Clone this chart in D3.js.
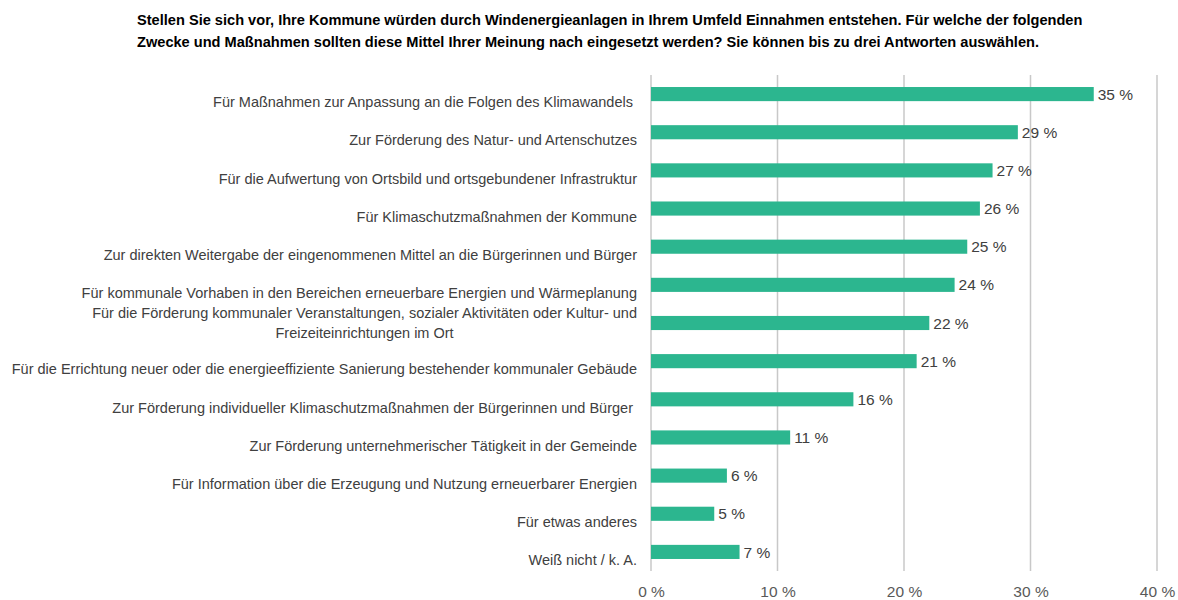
<!DOCTYPE html>
<html><head><meta charset="utf-8">
<script src="https://cdn.jsdelivr.net/npm/d3@7"></script>
<style>
html,body{margin:0;padding:0;background:#fff;}
svg{display:block;font-family:"Liberation Sans",Arial,sans-serif;}
</style></head>
<body><svg id="c" width="1178" height="600"></svg>
<script>
const titleLines = [
  "Stellen Sie sich vor, Ihre Kommune würden durch Windenergieanlagen in Ihrem Umfeld Einnahmen entstehen. Für welche der folgenden",
  "Zwecke und Maßnahmen sollten diese Mittel Ihrer Meinung nach eingesetzt werden? Sie können bis zu drei Antworten auswählen."
];
const categories = [
  ["Für Maßnahmen zur Anpassung an die Folgen des Klimawandels "],
  ["Zur Förderung des Natur- und Artenschutzes"],
  ["Für die Aufwertung von Ortsbild und ortsgebundener Infrastruktur"],
  ["Für Klimaschutzmaßnahmen der Kommune"],
  ["Zur direkten Weitergabe der eingenommenen Mittel an die Bürgerinnen und Bürger"],
  ["Für kommunale Vorhaben in den Bereichen erneuerbare Energien und Wärmeplanung"],
  ["Für die Förderung kommunaler Veranstaltungen, sozialer Aktivitäten oder Kultur- und", "Freizeiteinrichtungen im Ort"],
  ["Für die Errichtung neuer oder die energieeffiziente Sanierung bestehender kommunaler Gebäude"],
  ["Zur Förderung individueller Klimaschutzmaßnahmen der Bürgerinnen und Bürger "],
  ["Zur Förderung unternehmerischer Tätigkeit in der Gemeinde"],
  ["Für Information über die Erzeugung und Nutzung erneuerbarer Energien"],
  ["Für etwas anderes"],
  ["Weiß nicht / k. A."]
];
const values = [35, 29, 27, 26, 25, 24, 22, 21, 16, 11, 6, 5, 7];
const tickValues = [0, 10, 20, 30, 40];

const svg = d3.select("#c");
const x = d3.scaleLinear().domain([0, 40]).range([651, 1157]);
const y = d3.scaleBand().domain(d3.range(categories.length)).range([75, 571]).paddingInner(0.63).paddingOuter(0.315);

// title
svg.append("g").selectAll("text").data(titleLines).join("text")
  .attr("x", 137).attr("y", (d, i) => 25 + i * 22)
  .attr("font-size", 14.6).attr("font-weight", "bold").attr("fill", "#000")
  .text(d => d);

// gridlines
svg.append("g").selectAll("line").data(tickValues).join("line")
  .attr("x1", d => x(d)).attr("x2", d => x(d))
  .attr("y1", 75).attr("y2", 571)
  .attr("stroke", "#c8c8c8").attr("stroke-width", 1.5);

// x axis tick labels
const xAxis = d3.axisBottom(x).tickValues(tickValues).tickSize(0).tickFormat(d => d + " %");
const gx = svg.append("g").attr("transform", "translate(0,583)").call(xAxis);
gx.select(".domain").remove();
gx.selectAll("text").attr("font-size", 15.5).attr("fill", "#595959").attr("font-family", "Liberation Sans, Arial, sans-serif");

// bars
svg.append("g").selectAll("rect").data(values).join("rect")
  .attr("x", x(0)).attr("y", (d, i) => y(i))
  .attr("width", d => x(d) - x(0)).attr("height", y.bandwidth())
  .attr("fill", "#2cb68f");

// value labels
svg.append("g").selectAll("text").data(values).join("text")
  .attr("x", d => x(d) + 4).attr("y", (d, i) => y(i) + y.bandwidth() / 2)
  .attr("dy", "0.36em").attr("font-size", 15.5).attr("fill", "#404040")
  .text(d => d + " %");

// category labels
const lg = svg.append("g");
categories.forEach((lines, i) => {
  const cy = y(i) + y.bandwidth() / 2;
  if (lines.length === 1) {
    lg.append("text").attr("x", 637).attr("y", cy + 8).attr("dy", "0.36em")
      .attr("text-anchor", "end").attr("font-size", 14.5).attr("fill", "#404040")
      .style("white-space", "pre").text(lines[0]);
  } else {
    const t = lg.append("text").attr("font-size", 14.5).attr("fill", "#404040").attr("text-anchor", "middle");
    lines.forEach((l, j) => {
      t.append("tspan").attr("y", cy + (j - (lines.length - 1) / 2) * 19.5).attr("dy", "0.36em").text(l);
    });
    const maxW = d3.max(t.selectAll("tspan").nodes(), n => n.getComputedTextLength());
    t.selectAll("tspan").attr("x", 637 - maxW / 2);
  }
});
</script></body></html>
